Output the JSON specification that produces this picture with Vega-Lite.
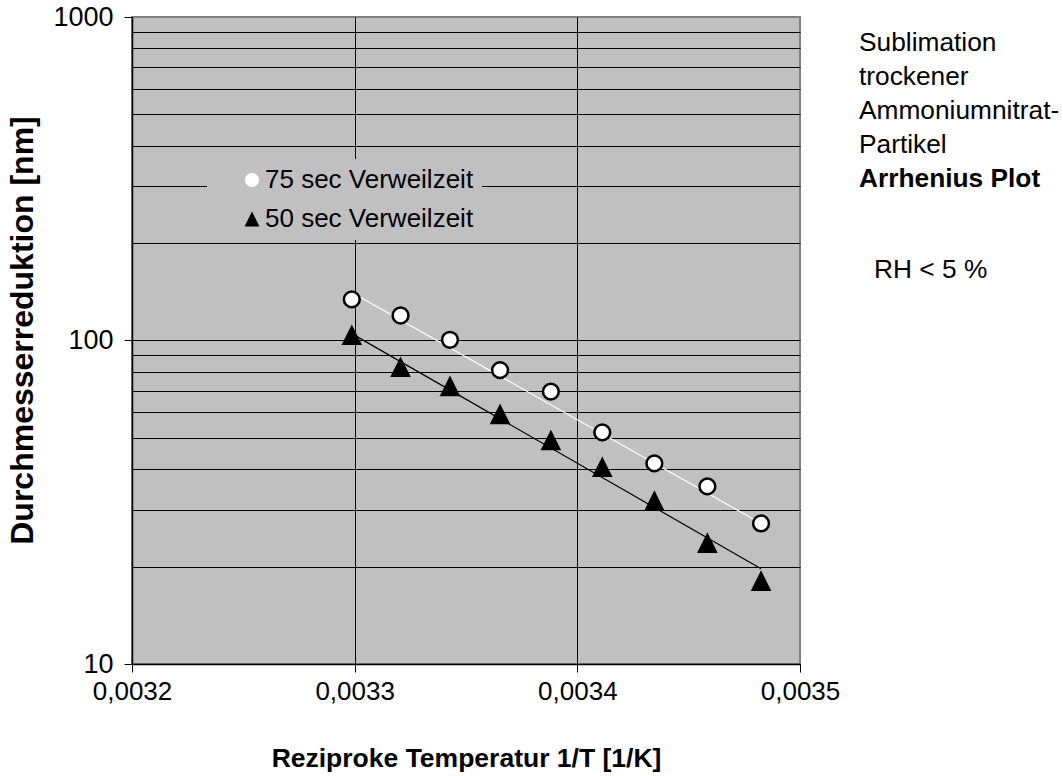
{
  "$schema": "https://vega.github.io/schema/vega-lite/v6.json",
  "width": 668,
  "height": 647,
  "autosize": "none",
  "padding": {"left": 132, "top": 17, "right": 263, "bottom": 112},
  "background": "white",
  "config": {
    "font": "Liberation Sans",
    "view": {"fill": "#c0c0c0", "stroke": "#808080", "strokeWidth": 2},
    "legend": {"orient": "none", "legendX": 75, "legendY": 142, "fillColor": "#c0c0c0", "padding": 8, "symbolOffset": 24, "labelFontSize": 26, "labelColor": "black", "rowPadding": 13, "symbolSize": 200, "symbolStrokeWidth": 2, "symbolStrokeColor": "black", "labelOffset": 0, "labelLimit": 400}
  },
  "datasets": {
    "points": [
      {"serie": "75 sec Verweilzeit", "x": 0.0032987, "y": 134},
      {"serie": "75 sec Verweilzeit", "x": 0.0033206, "y": 119.5},
      {"serie": "75 sec Verweilzeit", "x": 0.0033428, "y": 100.5},
      {"serie": "75 sec Verweilzeit", "x": 0.0033653, "y": 81},
      {"serie": "75 sec Verweilzeit", "x": 0.0033881, "y": 69.5},
      {"serie": "75 sec Verweilzeit", "x": 0.0034112, "y": 52},
      {"serie": "75 sec Verweilzeit", "x": 0.0034346, "y": 41.7},
      {"serie": "75 sec Verweilzeit", "x": 0.0034584, "y": 35.4},
      {"serie": "75 sec Verweilzeit", "x": 0.0034825, "y": 27.2},
      {"serie": "50 sec Verweilzeit", "x": 0.0032987, "y": 103.6},
      {"serie": "50 sec Verweilzeit", "x": 0.0033206, "y": 82.5},
      {"serie": "50 sec Verweilzeit", "x": 0.0033428, "y": 72},
      {"serie": "50 sec Verweilzeit", "x": 0.0033653, "y": 59},
      {"serie": "50 sec Verweilzeit", "x": 0.0033881, "y": 49},
      {"serie": "50 sec Verweilzeit", "x": 0.0034112, "y": 40.5},
      {"serie": "50 sec Verweilzeit", "x": 0.0034346, "y": 31.8},
      {"serie": "50 sec Verweilzeit", "x": 0.0034584, "y": 23.6},
      {"serie": "50 sec Verweilzeit", "x": 0.0034825, "y": 18.0}
    ],
    "trend": [
      {"serie": "75 sec Verweilzeit", "x": 0.0032987, "y": 140.7},
      {"serie": "75 sec Verweilzeit", "x": 0.0034825, "y": 27.2},
      {"serie": "50 sec Verweilzeit", "x": 0.0032987, "y": 105},
      {"serie": "50 sec Verweilzeit", "x": 0.0034825, "y": 19.7}
    ],
    "notes": [
      {"line": 1, "text": "Sublimation", "kind": "text"},
      {"line": 2, "text": "trockener", "kind": "text"},
      {"line": 3, "text": "Ammoniumnitrat-", "kind": "text"},
      {"line": 4, "text": "Partikel", "kind": "text"},
      {"line": 5, "text": "Arrhenius Plot", "kind": "heading"},
      {"line": 8, "text": "RH < 5 %", "kind": "condition"}
    ]
  },
  "layer": [
    {
      "layer": [
        {
          "data": {"name": "trend"},
          "transform": [{"filter": "datum.serie == '75 sec Verweilzeit'"}],
          "mark": {"type": "line", "strokeWidth": 1.2, "stroke": "white"},
          "encoding": {
            "x": {"field": "x", "type": "quantitative", "scale": {"domain": [0.0032, 0.0035], "nice": false, "zero": false}},
            "y": {"field": "y", "type": "quantitative", "scale": {"type": "log", "domain": [10, 1000], "nice": false}}
          }
        },
        {
          "data": {"name": "trend"},
          "transform": [{"filter": "datum.serie == '50 sec Verweilzeit'"}],
          "mark": {"type": "line", "strokeWidth": 1.2, "stroke": "black"},
          "encoding": {
            "x": {"field": "x", "type": "quantitative", "scale": {"domain": [0.0032, 0.0035], "nice": false, "zero": false}},
            "y": {"field": "y", "type": "quantitative", "scale": {"type": "log", "domain": [10, 1000], "nice": false}}
          }
        },
        {
          "data": {"name": "points"},
          "mark": {"type": "point", "filled": true, "stroke": "black", "strokeWidth": 2.5, "size": 250, "opacity": 1},
          "encoding": {
            "x": {
              "field": "x", "type": "quantitative",
              "scale": {"domain": [0.0032, 0.0035], "nice": false, "zero": false},
              "axis": {
                "title": "Reziproke Temperatur 1/T [1/K]",
                "values": [0.0032, 0.0033, 0.0034, 0.0035],
                "labelExpr": "replace(format(datum.value, '.4f'), '.', ',')",
                "labelFontSize": 26, "labelColor": "black", "labelPadding": 6, "labelFlush": false,
                "tickSize": 8, "tickColor": "black", "tickWidth": 1,
                "grid": true,
                "gridColor": {"condition": {"test": "datum.value > 0.00325 && datum.value < 0.00345", "value": "black"}, "value": "transparent"},
                "gridWidth": 1,
                "domainColor": "black", "domainWidth": 1.5,
                "titleFontSize": 26.5, "titleFontWeight": "bold", "titleColor": "black", "titlePadding": 41
              }
            },
            "y": {
              "field": "y", "type": "quantitative",
              "scale": {"type": "log", "domain": [10, 1000], "nice": false},
              "axis": {
                "title": "Durchmesserreduktion [nm]",
                "values": [10, 20, 30, 40, 50, 60, 70, 80, 90, 100, 200, 300, 400, 500, 600, 700, 800, 900, 1000],
                "labelExpr": "(datum.value == 10 || datum.value == 100 || datum.value == 1000) ? format(datum.value, 'd') : ''",
                "labelOverlap": false, "labelFlush": false,
                "labelFontSize": 27, "labelColor": "black", "labelPadding": 11,
                "tickSize": 8, "tickColor": "black",
                "tickOpacity": {"condition": {"test": "datum.value == 10 || datum.value == 100 || datum.value == 1000", "value": 1}, "value": 0},
                "grid": true, "gridColor": "black", "gridWidth": 1,
                "gridOpacity": {"condition": {"test": "datum.value == 10 || datum.value == 1000", "value": 0}, "value": 1},
                "domainColor": "black", "domainWidth": 1.5,
                "titleFontSize": 32, "titleFontWeight": "bold", "titleColor": "black", "titlePadding": 13, "titleY": 313
              }
            },
            "shape": {
              "field": "serie", "type": "nominal", "title": null,
              "scale": {"domain": ["75 sec Verweilzeit", "50 sec Verweilzeit"], "range": ["circle", "M0,-1.05L1.05,1.05L-1.05,1.05Z"]},
              "legend": {"symbolStrokeColor": "black", "symbolStrokeWidth": 2, "encode": {"symbols": {"stroke": {"value": "black"}, "strokeWidth": {"value": 2}}}}
            },
            "fill": {
              "field": "serie", "type": "nominal", "title": null,
              "scale": {"domain": ["75 sec Verweilzeit", "50 sec Verweilzeit"], "range": ["white", "black"]},
              "legend": {"symbolStrokeColor": "black", "symbolStrokeWidth": 2, "encode": {"symbols": {"stroke": {"value": "black"}, "strokeWidth": {"value": 2}}}}
            }
          }
        }
      ]
    },
    {
      "data": {"name": "notes"},
      "layer": [
        {
          "transform": [{"filter": "datum.kind == 'text'"}],
          "mark": {"type": "text", "align": "left", "baseline": "alphabetic", "fontSize": 26.3, "color": "black"},
          "encoding": {
            "x": {"datum": 0.0035265, "type": "quantitative"},
            "y": {"field": "line", "type": "quantitative", "scale": {"domain": [0, 19.03], "reverse": true, "nice": false, "zero": false}, "axis": null},
            "text": {"field": "text"}
          }
        },
        {
          "transform": [{"filter": "datum.kind == 'heading'"}],
          "mark": {"type": "text", "align": "left", "baseline": "alphabetic", "fontSize": 26.3, "fontWeight": "bold", "color": "black"},
          "encoding": {
            "x": {"datum": 0.0035265, "type": "quantitative"},
            "y": {"field": "line", "type": "quantitative", "scale": {"domain": [0, 19.03], "reverse": true, "nice": false, "zero": false}, "axis": null},
            "text": {"field": "text"}
          }
        },
        {
          "transform": [{"filter": "datum.kind == 'condition'"}],
          "mark": {"type": "text", "align": "left", "baseline": "alphabetic", "fontSize": 26.3, "color": "black", "dx": 15, "dy": -11},
          "encoding": {
            "x": {"datum": 0.0035265, "type": "quantitative"},
            "y": {"field": "line", "type": "quantitative", "scale": {"domain": [0, 19.03], "reverse": true, "nice": false, "zero": false}, "axis": null},
            "text": {"field": "text"}
          }
        }
      ]
    }
  ],
  "resolve": {"scale": {"y": "independent"}}
}
